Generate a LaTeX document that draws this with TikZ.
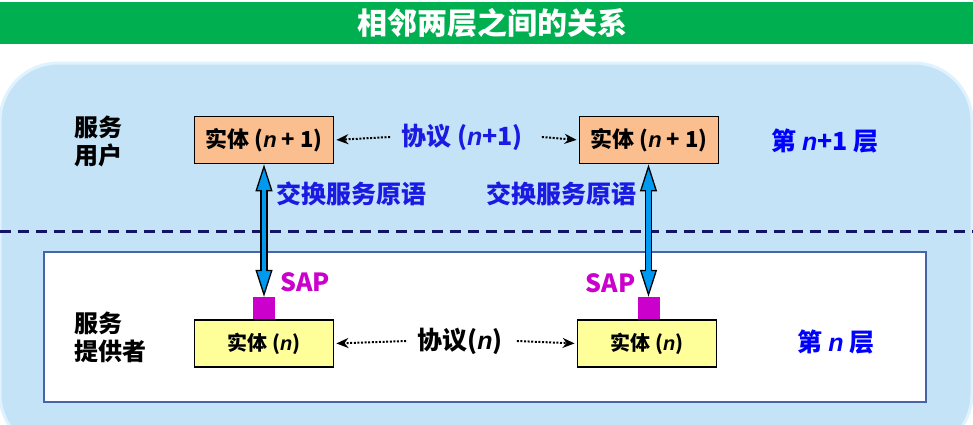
\documentclass[tikz,border=0pt]{standalone}
\usepackage{fontspec}
\setmainfont{Noto Sans CJK SC}
\newfontfamily\latf{Liberation Sans}
\usetikzlibrary{arrows.meta}
\definecolor{titlegreen}{RGB}{0,176,80}
\definecolor{bgblue}{RGB}{197,227,247}
\definecolor{bevel}{RGB}{224,242,253}
\definecolor{peach}{RGB}{251,190,143}
\definecolor{paleyellow}{RGB}{255,255,153}
\definecolor{arrowblue}{RGB}{0,153,240}
\definecolor{sapmag}{RGB}{204,0,204}
\definecolor{textblue}{RGB}{26,26,226}
\definecolor{layerblue}{RGB}{0,0,255}
\definecolor{navy}{RGB}{20,20,100}
\definecolor{frameblue}{RGB}{70,100,170}
\newcommand\nv{{\latf\bfseries\itshape n}}
\begin{document}
\begin{tikzpicture}[x=1pt,y=-1pt,
  entity/.style={draw=black, line width=1.8pt, minimum width=139pt, minimum height=47pt, inner sep=0pt},
  uptext/.style={font=\bfseries\fontsize{22pt}{26pt}\selectfont},
  lowtext/.style={font=\bfseries\fontsize{20pt}{24pt}\selectfont},
  lbl/.style={inner sep=0pt, font=\bfseries\fontsize{25pt}{28pt}\selectfont},
  side/.style={inner sep=0pt, align=left, font=\bfseries\fontsize{24pt}{28pt}\selectfont},
  layer/.style={inner sep=0pt, font=\bfseries\fontsize{25pt}{28pt}\selectfont},
  sap/.style={fill=sapmag, minimum size=22pt, inner sep=0pt},
  proto/.style={line width=2pt, dash pattern=on 2pt off 1.6pt, -{Stealth[length=12pt,width=10pt]}, shorten >=2pt},
  blockarrow/.style={line width=7.4pt, {Triangle[length=27pt,width=17pt,fill=arrowblue,line width=1.3pt]}-{Triangle[length=27pt,width=17pt,fill=arrowblue,line width=1.3pt]}},
  blockshaft/.style={line width=4.6pt, arrowblue, shorten <=24pt, shorten >=24pt}
]
\useasboundingbox (0,0) rectangle (973,424);
\clip (0,0) rectangle (973,424);
% title bar
\fill[titlegreen] (0,2) rectangle (973,44);
\node[text=white, inner sep=0pt, font=\bfseries\fontsize{30pt}{32pt}\selectfont] (title) at (492,23) {相邻两层之间的关系};
% background panel
\path[fill=bgblue, draw=bevel, line width=3pt, rounded corners=58pt] (0,63) rectangle (972,452);
% dashed separator
\draw[navy, line width=3pt, dash pattern=on 11pt off 7pt] (0,231) -- (973,231);
% lower white frame
\draw[fill=white, draw=frameblue, line width=1.3pt] (44,252) rectangle (926,402);
% side labels
\node[side, anchor=west] (user) at (74,141) {服务\\用户};
\node[side, anchor=west] (prov) at (74,337) {服务\\提供者};
\node[layer, text=layerblue] (layer1) at (825,141) {第 \nv+1 层};
\node[layer, text=layerblue] (layer0) at (836,342) {第 \nv\ 层};
% entities
\node[entity, fill=peach, uptext] (e1) at (264,140) {实体 (\nv\ + 1)};
\node[entity, fill=peach, uptext] (e2) at (649,140) {实体 (\nv\ + 1)};
\node[entity, fill=paleyellow, lowtext] (f1) at (264,343.5) {实体 (\nv)};
\node[entity, fill=paleyellow, lowtext] (f2) at (647,343.5) {实体 (\nv)};
% SAP squares
\node[sap] (s1) at (264,308) {};
\node[sap] (s2) at (648.5,308) {};
\node[lbl, text=sapmag] (sapl1) at (305,282) {SAP};
\node[lbl, text=sapmag] (sapl2) at (610.5,283) {SAP};
% primitive labels
\node[lbl, text=textblue] (prim1) at (351,194) {交换服务原语};
\node[lbl, text=textblue] (prim2) at (561.5,194) {交换服务原语};
% protocol labels
\node[lbl, text=textblue] (p1) at (462,137) {协议 (\nv+1)};
\node[lbl] (p0) at (460,341) {协议(\nv)};
% protocol arrows
\draw[proto] ([xshift=-11pt]p1.west) -- (e1.east);
\draw[proto] ([xshift=19pt]p1.east) -- (e2.west);
\draw[proto] ([xshift=-11pt]p0.west) -- (f1.east);
\draw[proto] ([xshift=14pt]p0.east) -- (f2.west);
% block arrows
\coordinate (a1) at (s1.north |- e1.south);
\coordinate (a2) at (s2.north |- e2.south);
\draw[blockarrow] (a1) -- (s1.north);
\draw[blockshaft] (a1) -- (s1.north);
\draw[blockarrow] (a2) -- (s2.north);
\draw[blockshaft] (a2) -- (s2.north);
\end{tikzpicture}
\end{document}
